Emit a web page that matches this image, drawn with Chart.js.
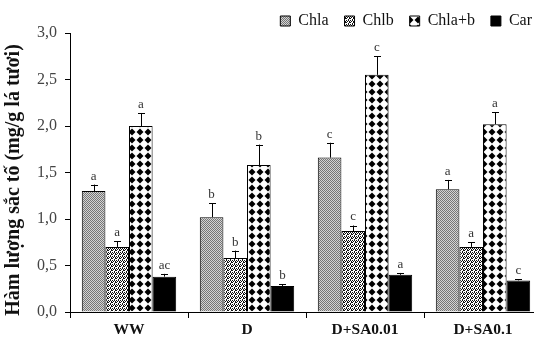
<!DOCTYPE html>
<html>
<head>
<meta charset="utf-8">
<script src="https://cdn.jsdelivr.net/npm/chart.js@4.4.0/dist/chart.umd.min.js"></script>
<style>
  html, body { margin: 0; padding: 0; background: #fff; overflow: hidden; }
  #wrap { width: 542px; height: 345px; }
</style>
</head>
<body>
<div id="wrap"><canvas id="bar-chart"></canvas></div>
<script>
const groups = ['WW', 'D', 'D+SA0.01', 'D+SA0.1'];

const chla    = [1.30, 1.02, 1.66, 1.32];
const chlaErr = [0.07, 0.15, 0.16, 0.10];
const chlaSig = ['a', 'b', 'c', 'a'];

const chlb    = [0.70, 0.58, 0.87, 0.70];
const chlbErr = [0.06, 0.08, 0.06, 0.05];
const chlbSig = ['a', 'b', 'c', 'a'];

const chlab    = [2.00, 1.58, 2.55, 2.02];
const chlabErr = [0.14, 0.22, 0.20, 0.13];
const chlabSig = ['a', 'b', 'c', 'a'];

const car    = [0.38, 0.28, 0.40, 0.34];
const carErr = [0.03, 0.02, 0.02, 0.01];
const carSig = ['ac', 'b', 'a', 'c'];

const serif = "'Liberation Serif', 'Times New Roman', serif";

// small tiles used as bar fills
function tile(w, h, draw) {
  const c = document.createElement('canvas');
  c.width = w; c.height = h;
  const g = c.getContext('2d');
  g.fillStyle = '#fff';
  g.fillRect(0, 0, w, h);
  draw(g);
  return g.createPattern(c, 'repeat');
}

const patChla = tile(2, 2, g => {
  g.fillStyle = '#767676';
  g.fillRect(0, 0, 2, 2);
  g.fillStyle = '#d4d4d4';
  g.fillRect(1, 0, 1, 1);
  g.fillRect(0, 1, 1, 1);
});

const patChlb = tile(4, 4, g => {
  g.fillStyle = '#111';
  [[0,0],[1,1],[2,0],[3,1],[0,2],[2,3],[3,2]].forEach(p => g.fillRect(p[0], p[1], 1, 1));
});

const patChlab = tile(8, 8, g => {
  g.fillStyle = '#000';
  g.beginPath();
  g.moveTo(4, 0.5); g.lineTo(7.5, 4); g.lineTo(4, 7.5); g.lineTo(0.5, 4);
  g.closePath();
  g.fill();
});

// fixed legend band height, and nudge the legend right a bit (canvas is wider than the window)
const legendBand = {
  id: 'legendBand',
  afterInit(chart) {
    const lg = chart.legend;
    if (!lg) return;
    const fit = lg.fit;
    lg.fit = function () {
      fit.apply(this, arguments);
      this.height = 36;
    };
    const draw = lg.draw;
    lg.draw = function () {
      chart.ctx.save();
      chart.ctx.translate(6, 0);
      draw.apply(this, arguments);
      chart.ctx.restore();
    };
  }
};

const errBars = {
  id: 'errBars',
  afterDatasetsDraw(chart) {
    const ctx = chart.ctx;
    const ys = chart.scales.y;
    ctx.save();
    chart.data.datasets.forEach((ds, i) => {
      const meta = chart.getDatasetMeta(i);
      meta.data.forEach((bar, j) => {
        const top = ys.getPixelForValue(ds.data[j] + ds.err[j]);
        const x = Math.round(bar.x) + 0.5;
        ctx.strokeStyle = '#000';
        ctx.lineWidth = 1;
        ctx.beginPath();
        ctx.moveTo(x, bar.y);
        ctx.lineTo(x, top);
        ctx.moveTo(x - 3.5, Math.round(top) + 0.5);
        ctx.lineTo(x + 3.5, Math.round(top) + 0.5);
        ctx.stroke();
        ctx.fillStyle = '#333';
        ctx.font = '13px ' + serif;
        ctx.textAlign = 'center';
        ctx.textBaseline = 'bottom';
        ctx.fillText(ds.sig[j], bar.x, top - 2);
      });
    });
    ctx.restore();
  }
};

new Chart(document.getElementById('bar-chart'), {
  type: 'bar',
  data: {
    labels: groups,
    datasets: [
      { label: 'Chla', data: chla, err: chlaErr, sig: chlaSig, backgroundColor: patChla },
      { label: 'Chlb', data: chlb, err: chlbErr, sig: chlbSig, backgroundColor: patChlb },
      { label: 'Chla+b', data: chlab, err: chlabErr, sig: chlabSig, backgroundColor: patChlab },
      { label: 'Car', data: car, err: carErr, sig: carSig, backgroundColor: '#000' }
    ].map(d => Object.assign(d, {
      borderColor: '#000', borderWidth: 1, categoryPercentage: 0.8, barPercentage: 1.0
    }))
  },
  options: {
    responsive: true,
    maintainAspectRatio: false,
    animation: false,
    layout: { padding: { left: 2, top: -3, right: 0, bottom: 0 } },
    plugins: {
      tooltip: { enabled: false },
      legend: {
        position: 'top',
        align: 'end',
        labels: {
          boxWidth: 10, boxHeight: 10, padding: 16,
          color: '#111',
          font: { family: serif, size: 16 }
        }
      }
    },
    scales: {
      x: {
        grid: { display: true, drawOnChartArea: false, drawTicks: true, tickLength: 6, color: '#000' },
        border: { color: '#000' },
        ticks: { color: '#111', padding: 3, font: { family: serif, size: 15.5, weight: 'bold' } },
        afterFit: s => { s.height = 33; }
      },
      y: {
        min: 0, max: 3,
        grid: { display: true, drawOnChartArea: false, drawTicks: true, tickLength: 5, color: '#000' },
        border: { color: '#000' },
        ticks: {
          stepSize: 0.5, color: '#444', padding: 8,
          font: { family: serif, size: 16 },
          callback: v => v.toFixed(1).replace('.', ',')
        },
        title: {
          display: true,
          text: 'Hàm lượng sắc tố (mg/g lá tươi)   ',
          color: '#111',
          font: { family: serif, size: 20, weight: 'bold' },
          padding: { top: 0, bottom: 0 }
        },
        afterFit: s => { s.width = 68; }
      }
    }
  },
  plugins: [legendBand, errBars]
});
</script>
</body>
</html>
